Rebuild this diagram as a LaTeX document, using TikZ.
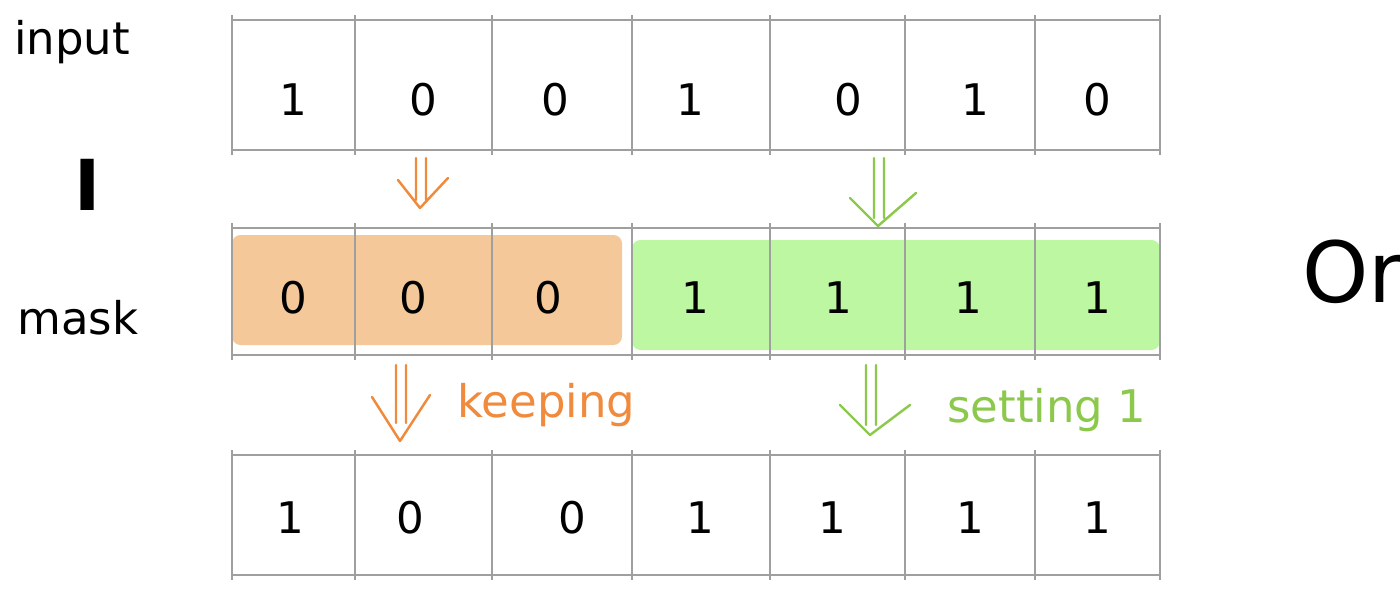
\documentclass[tikz,border=0pt]{standalone}
\usepackage{fontspec}
\setmainfont{DejaVu Sans}
\usetikzlibrary{calc}
\definecolor{ofill}{HTML}{F5C89A}
\definecolor{gfill}{HTML}{BDF7A2}
\definecolor{oline}{HTML}{F08A3C}
\definecolor{gline}{HTML}{8CC84B}
\begin{document}
\begin{tikzpicture}[x=0.05cm,y=-0.05cm,
  grid/.style={draw=gray!75,line width=3pt},
  digit/.style={font=\fontsize{62}{62}\selectfont},
  lbl/.style={font=\fontsize{64}{64}\selectfont},
  orng/.style={draw=oline,line width=3.5pt,line cap=round,line join=round},
  grn/.style={draw=gline,line width=3.5pt,line cap=round,line join=round}]
\path[use as bounding box] (0,0) rectangle (1400,592);
% fills
\fill[ofill,rounded corners=12pt] (232,235) rectangle (622,345);
\fill[gfill,rounded corners=12pt] (632,240) rectangle (1160,350);
% grids
\foreach \ya/\yb in {20/150,228/355,455/575}{
  \draw[grid] (232,\ya) -- (1160,\ya);
  \draw[grid] (232,\yb) -- (1160,\yb);
  \foreach \x in {232,355,492,632,770,905,1035,1160}
    \draw[grid] (\x,\ya-5) -- (\x,\yb+5);
}
% digits
\foreach \x/\d [count=\i] in {293/1,423/0,555/0,690/1,848/0,975/1,1097/0}
  \node[digit] (t\i) at (\x,100) {\d};
\foreach \x/\d [count=\i] in {293/0,413/0,548/0,695/1,838/1,968/1,1097/1}
  \node[digit] (m\i) at (\x,298) {\d};
\foreach \x/\d [count=\i] in {290/1,410/0,572/0,700/1,832/1,970/1,1097/1}
  \node[digit] (b\i) at (\x,518) {\d};
% labels
\node[lbl] (in) at (72,42) {input};
\node[font=\fontsize{100}{100}\selectfont\bfseries] (bar) at (88,185) {I};
\node[lbl] (mask) at (78,318) {mask};
\node[font=\fontsize{120}{120}\selectfont,anchor=west] (or) at (1300,272) {Or};
% arrows
\coordinate (o1) at (420,158); \coordinate (o2) at (400,365);
\coordinate (g1) at (878,158); \coordinate (g2) at (870,365);
\draw[orng] ($(o1)+(-4,0)$) -- ++(0,42) ($(o1)+(6,0)$) -- ++(0,42) ($(o1)+(-22,22)$) -- ($(o1)+(0,50)$) -- ($(o1)+(28,20)$);
\draw[grn] ($(g1)+(-4,0)$) -- ++(0,60) ($(g1)+(6,0)$) -- ++(0,60) ($(g1)+(-28,40)$) -- ($(g1)+(0,68)$) -- ($(g1)+(38,35)$);
\draw[orng] ($(o2)+(-4,0)$) -- ++(0,58) ($(o2)+(6,0)$) -- ++(0,58) ($(o2)+(-28,32)$) -- ($(o2)+(0,76)$) -- ($(o2)+(30,30)$);
\draw[grn] ($(g2)+(-4,0)$) -- ++(0,60) ($(g2)+(6,0)$) -- ++(0,60) ($(g2)+(-30,40)$) -- ($(g2)+(0,70)$) -- ($(g2)+(40,40)$);
\node[lbl,text=oline,anchor=west] (keep) at (455,405) {keeping};
\node[lbl,text=gline,anchor=west] (set) at (945,410) {setting 1};
\end{tikzpicture}
\end{document}
